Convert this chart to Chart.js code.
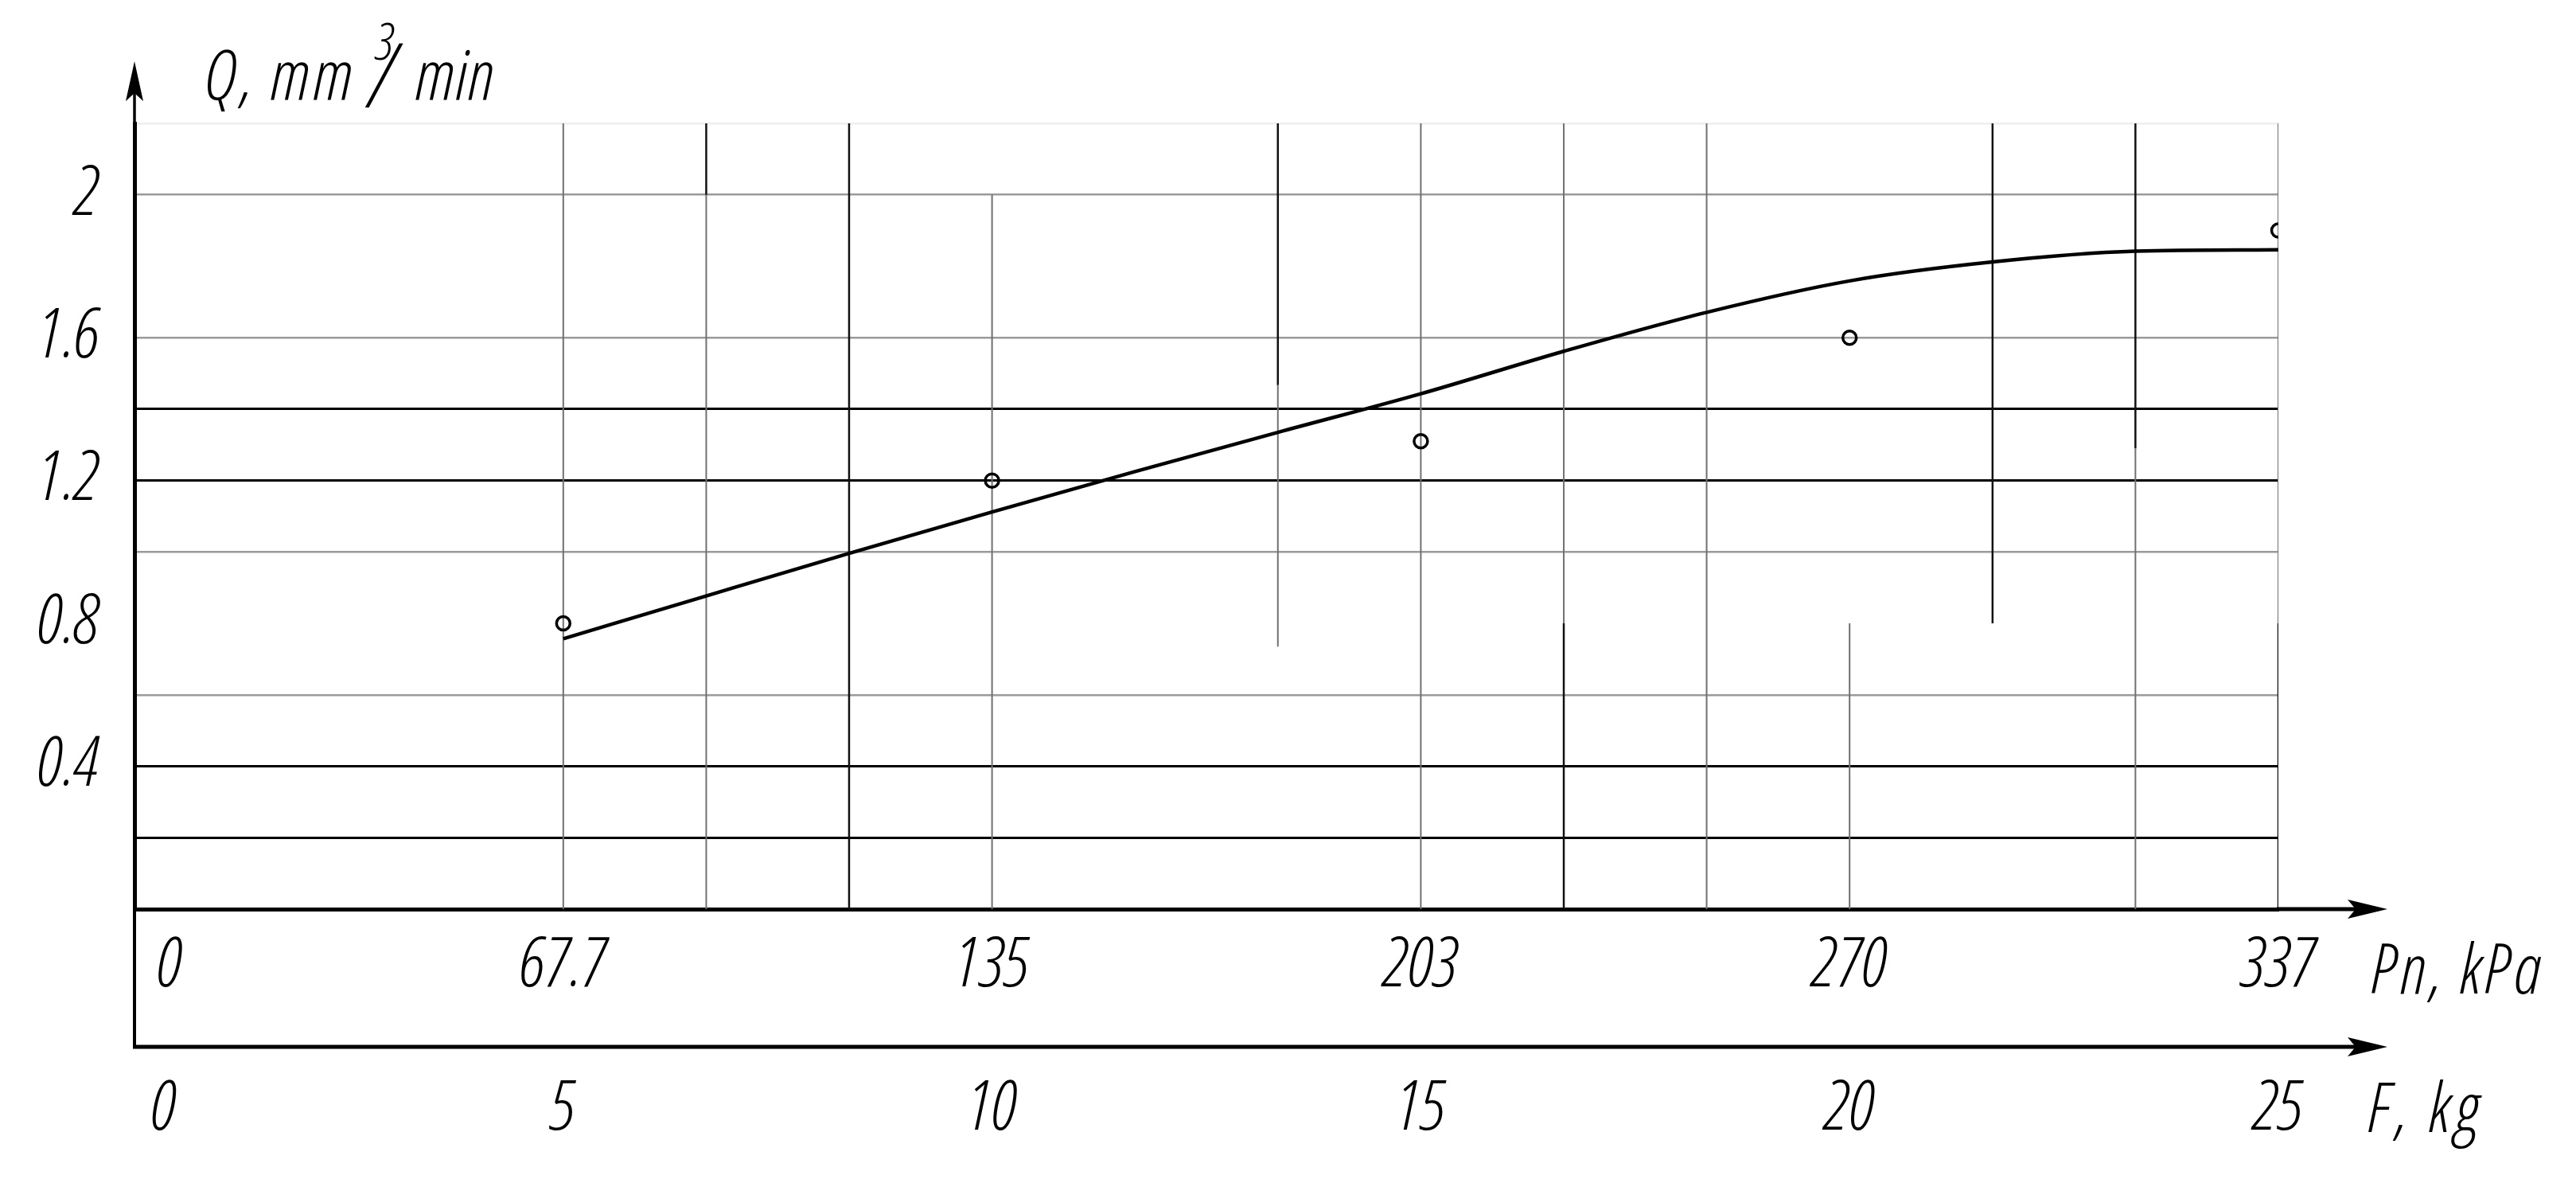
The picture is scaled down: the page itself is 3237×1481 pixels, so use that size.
<!DOCTYPE html>
<html>
<head>
<meta charset="utf-8">
<script src="https://cdn.jsdelivr.net/npm/chart.js@4.4.0/dist/chart.umd.min.js"></script>
<style>
  html, body { margin: 0; padding: 0; background: #ffffff; }
  #wrap { width: 3237px; height: 1481px; position: relative; }
  canvas { display: block; }
</style>
</head>
<body>
<div id="wrap"><canvas id="c" width="3237" height="1481"></canvas></div>
<script>
// ---------------- data ----------------
// measured points: load F (kg) and wear rate Q (mm^3/min)
const measuredF = [5, 10, 15, 20, 25];
const measuredQ = [0.80, 1.20, 1.31, 1.60, 1.90];
// fitted curve
const curveF = [5, 6.667, 8.333, 10, 11.667, 13.333, 15, 16.667, 18.333, 20, 21.667, 23.333, 25];
const curveQ = [0.757, 0.877, 0.996, 1.112, 1.225, 1.335, 1.443, 1.562, 1.671, 1.759, 1.812, 1.842, 1.846];
// tick labels
const fTickValues = [0, 5, 10, 15, 20, 25];
const fTickLabels = ['0', '5', '10', '15', '20', '25'];
const pnTickLabels = ['0', '67.7', '135', '203', '270', '337'];
const yTickValues = [0.4, 0.8, 1.2, 1.6, 2.0];
const yTickLabels = ['0.4', '0.8', '1.2', '1.6', '2'];
// horizontal grid of the drawing sheet
const hGridDark = [0.2, 0.4, 1.2, 1.4];
const hGridGray = [0.6, 1.0, 1.6, 2.0];
const hGridFaint = [2.2];
// vertical grid pieces of the drawing sheet: [F, Q from, Q to, dark?]
const vGridPieces = [
  [5, 0, 2.2, false],
  [6.667, 0, 2.0, false], [6.667, 2.0, 2.2, true],
  [8.333, 0, 2.2, true],
  [10, 0, 2.0, false],
  [13.333, 0.735, 1.467, false], [13.333, 1.467, 2.2, true],
  [15, 0, 2.2, false],
  [16.667, 0.8, 2.2, false], [16.667, 0, 0.8, true],
  [18.333, 0, 2.2, false],
  [20, 0, 0.8, false],
  [21.667, 0.8, 2.2, true],
  [23.333, 0, 1.29, false], [23.333, 1.29, 2.2, true],
  [25, 0.8, 2.2, false], [25, 0, 0.8, true]
];

// ---------------- styles ----------------
const FAMILY = "'Open Sans', 'DejaVu Sans Condensed', sans-serif";
const FONT_SIZE = 87;
const tickFont = { family: FAMILY, size: FONT_SIZE, style: 'italic', weight: '300 condensed', lineHeight: 1.2 };
const fontStr = (px) => 'italic 300 condensed ' + px + 'px ' + FAMILY;

function rv(v) { return Math.round(v * 100) / 100; }

const datasets = [];
vGridPieces.forEach(p => {
  datasets.push({
    data: [{ x: p[0], y: p[1] }, { x: p[0], y: p[2] }],
    borderColor: p[3] ? '#111111' : '#707070',
    borderWidth: p[3] ? 2.5 : 2,
    pointRadius: 0,
    fill: false,
    tension: 0,
    order: 10
  });
});
datasets.push({
  label: 'curve',
  data: curveF.map((f, i) => ({ x: f, y: curveQ[i] })),
  borderColor: '#000000',
  borderWidth: 4.5,
  pointRadius: 0,
  fill: false,
  cubicInterpolationMode: 'monotone',
  order: 2
});
datasets.push({
  label: 'measured',
  data: measuredF.map((f, i) => ({ x: f, y: measuredQ[i] })),
  showLine: false,
  borderColor: '#000000',
  backgroundColor: 'rgba(0,0,0,0)',
  pointStyle: 'circle',
  pointRadius: 8.5,
  pointBorderWidth: 3.5,
  order: 1
});

const axisPlugin = {
  id: 'axisExtras',
  afterDraw(chart) {
    const ctx = chart.ctx;
    const ca = chart.chartArea;
    const x2 = chart.scales.x2;
    const xl = ca.left;
    const tipX = ca.right + 137;
    const yTop = ca.top - 78;
    ctx.save();
    ctx.strokeStyle = '#000';
    ctx.fillStyle = '#000';
    ctx.lineCap = 'butt';
    // y axis extension up with arrow
    ctx.lineWidth = 3.5;
    ctx.beginPath(); ctx.moveTo(xl, ca.top); ctx.lineTo(xl, yTop + 30); ctx.stroke();
    ctx.beginPath(); ctx.moveTo(xl, yTop); ctx.lineTo(xl - 11, yTop + 50); ctx.lineTo(xl, yTop + 40); ctx.lineTo(xl + 11, yTop + 50); ctx.closePath(); ctx.fill();
    // y axis down to second axis
    ctx.lineWidth = 4;
    ctx.beginPath(); ctx.moveTo(xl, ca.bottom); ctx.lineTo(xl, x2.top); ctx.stroke();
    // x axis extension with arrow
    const arrowH = (y) => {
      ctx.beginPath(); ctx.moveTo(tipX, y); ctx.lineTo(tipX - 50, y - 12); ctx.lineTo(tipX - 40, y); ctx.lineTo(tipX - 50, y + 12); ctx.closePath(); ctx.fill();
    };
    ctx.lineWidth = 5;
    ctx.beginPath(); ctx.moveTo(ca.right - 2, ca.bottom); ctx.lineTo(tipX - 30, ca.bottom); ctx.stroke();
    arrowH(ca.bottom);
    // second (F) axis line with arrow
    ctx.beginPath(); ctx.moveTo(xl - 2, x2.top); ctx.lineTo(tipX - 30, x2.top); ctx.stroke();
    arrowH(x2.top);
    // axis titles
    ctx.textBaseline = 'alphabetic';
    ctx.textAlign = 'left';
    const qx = xl + 89, qy = ca.top - 30;
    ctx.font = fontStr(FONT_SIZE);
    ctx.letterSpacing = '4px';
    ctx.fillText('Q, mm', qx, qy);
    ctx.letterSpacing = '0px';
    ctx.font = fontStr(64);
    ctx.fillText('3', qx + 214, qy - 50);
    ctx.font = fontStr(FONT_SIZE + 26);
    ctx.fillText('/', qx + 206, qy + 10);
    ctx.font = fontStr(FONT_SIZE);
    ctx.letterSpacing = '1px';
    ctx.fillText('min', qx + 264, qy);
    ctx.letterSpacing = '4px';
    ctx.fillText('Pn, kPa', ca.right + 117, ca.bottom + 106);
    ctx.letterSpacing = '6px';
    ctx.fillText('F, kg', ca.right + 113, x2.top + 107);
    ctx.restore();
  }
};

new Chart(document.getElementById('c'), {
  type: 'line',
  data: { datasets },
  plugins: [axisPlugin],
  options: {
    responsive: false,
    devicePixelRatio: 1,
    animation: false,
    events: [],
    layout: { padding: { left: 0, right: 374, top: 155, bottom: 0 } },
    plugins: { legend: { display: false }, tooltip: { enabled: false }, title: { display: false } },
    scales: {
      x: {
        type: 'linear', position: 'bottom', min: 0, max: 25,
        afterFit(s) { s.height = 173; },
        afterBuildTicks(s) { s.ticks = fTickValues.map(v => ({ value: v })); },
        grid: { display: false, drawTicks: false },
        border: { display: true, color: '#000', width: 5 },
        ticks: {
          padding: 20, maxRotation: 0, autoSkip: false, color: '#000', font: tickFont,
          callback(v, i) { return i === 0 ? '      ' + pnTickLabels[i] : pnTickLabels[i]; }
        }
      },
      x2: {
        type: 'linear', position: 'bottom', min: 0, max: 25,
        afterFit(s) { s.height = 166; },
        afterBuildTicks(s) { s.ticks = fTickValues.map(v => ({ value: v })); },
        grid: { display: false, drawTicks: false },
        border: { display: false },
        ticks: {
          padding: 27, maxRotation: 0, autoSkip: false, color: '#000', font: tickFont,
          callback(v, i) { return i === 0 ? '     ' + fTickLabels[i] : fTickLabels[i]; }
        }
      },
      y: {
        type: 'linear', position: 'left', min: 0, max: 2.2,
        afterFit(s) { s.width = 169; },
        ticks: {
          stepSize: 0.2, padding: 44, color: '#000', font: tickFont, autoSkip: false,
          callback(v) {
            const k = yTickValues.findIndex(t => rv(t) === rv(v));
            return k >= 0 ? yTickLabels[k] : '';
          }
        },
        grid: {
          drawTicks: false,
          color(c) {
            const v = rv(c.tick.value);
            if (hGridDark.some(t => rv(t) === v)) return '#000000';
            if (hGridGray.some(t => rv(t) === v)) return '#9a9a9a';
            if (hGridFaint.some(t => rv(t) === v)) return '#eeeeee';
            return 'rgba(0,0,0,0)';
          },
          lineWidth(c) {
            const v = rv(c.tick.value);
            if (hGridDark.some(t => rv(t) === v)) return 3;
            return 2.5;
          }
        },
        border: { display: true, color: '#000', width: 5 }
      }
    }
  }
});
</script>
</body>
</html>
